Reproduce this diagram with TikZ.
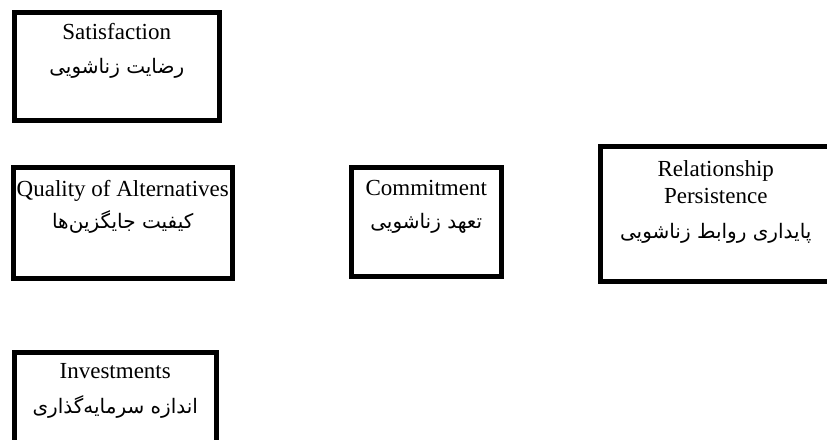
\documentclass[tikz,border=0pt]{standalone}
\usepackage{fontspec}
\setmainfont{Liberation Serif}
\newfontfamily\persianfont[Script=Arabic]{DejaVu Sans}
\TeXXeTstate=1
\usetikzlibrary{positioning}

\newcommand{\fa}[1]{{\persianfont\fontsize{20}{33}\selectfont\beginR #1\endR}}

\tikzset{
  box/.style={draw=black, line width=4.5pt, anchor=north west, inner sep=0pt},
  boxtext/.style={align=center, font=\fontsize{23}{27}\selectfont, inner sep=0pt},
}

\begin{document}
\begin{tikzpicture}[x=1pt, y=-1pt]
  \useasboundingbox (0,0) rectangle (827,439);
  \clip (0,0) rectangle (827,439);

  % Satisfaction
  \node[box, minimum width=205pt, minimum height=108pt] (sat) at (12,10) {};
  \node[boxtext, below=13pt of sat.north] (satT) {Satisfaction\\[7pt]\fa{رضایت زناشویی}};

  % Quality of Alternatives
  \node[box, minimum width=219pt, minimum height=111pt] (alt) at (11,165) {};
  \node[boxtext, below=15pt of alt.north] (altT) {Quality of Alternatives\\[5pt]\fa{کیفیت جایگزین‌ها}};

  % Commitment
  \node[box, minimum width=150pt, minimum height=109pt] (com) at (349,165) {};
  \node[boxtext, below=15pt of com.north] (comT) {Commitment\\[6pt]\fa{تعهد زناشویی}};

  % Relationship Persistence
  \node[box, minimum width=231pt, minimum height=135pt] (per) at (598,144) {};
  \node[boxtext, below=16pt of per.north] (perT) {Relationship\\Persistence\\[8pt]\fa{پایداری روابط زناشویی}};

  % Investments
  \node[box, minimum width=202pt, minimum height=110pt] (inv) at (12,350) {};
  \node[boxtext, below=13pt of inv.north] (invT) {Investments\\[8pt]\fa{اندازه سرمایه‌گذاری}};
\end{tikzpicture}
\end{document}
